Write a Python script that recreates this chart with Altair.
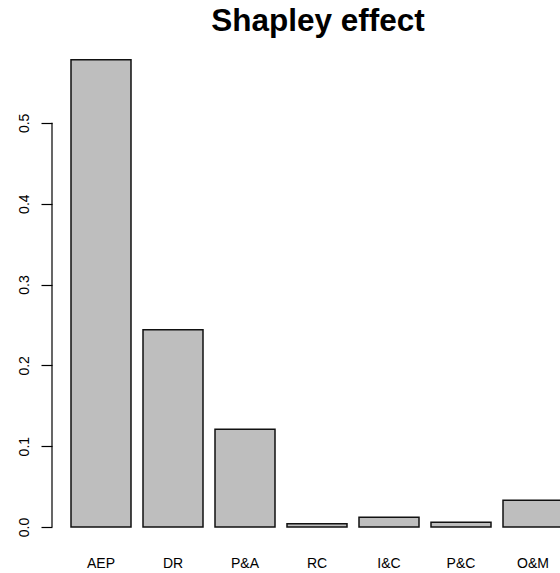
import altair as alt
import pandas as pd

# Shapley effect of each input factor
factors = ["AEP", "DR", "P&A", "RC", "I&C", "P&C", "O&M"]
shapley = [0.578, 0.244, 0.121, 0.004, 0.012, 0.006, 0.033]
y_ticks = [0.0, 0.1, 0.2, 0.3, 0.4, 0.5]

# barplot-style layout: unit-width bars separated by a 0.2 gap
space = 0.2
df = pd.DataFrame({
    "factor": factors,
    "value": shapley,
    "left": [space + i * (1 + space) for i in range(len(factors))],
})
df["right"] = df["left"] + 1
df["mid"] = df["left"] + 0.5

x_dom = [-0.1167, 8.35]
y_dom = [0, 0.6]
FONT = "Liberation Sans"

x_scale = alt.Scale(domain=x_dom, nice=False, zero=False)
y_scale = alt.Scale(domain=y_dom, nice=False)

y_axis = alt.Axis(
    values=y_ticks, format=".1f", domain=False, grid=False,
    tickSize=11, tickColor="#000", tickWidth=1.2,
    labelAngle=270, labelAlign="center", labelBaseline="bottom",
    labelPadding=10, labelFont=FONT, labelFontSize=14, labelColor="#000",
    title=None,
)

bars = alt.Chart(df).mark_rect(
    fill="#BEBEBE", stroke="#111", strokeWidth=1.5
).encode(
    x=alt.X("left:Q", scale=x_scale, axis=None),
    x2="right:Q",
    y=alt.Y("value:Q", scale=y_scale, axis=y_axis),
    y2=alt.datum(0),
)

# y axis line spanning only the tick range
axis_line = alt.Chart(pd.DataFrame({"lo": [y_ticks[0]], "hi": [y_ticks[-1]]})).mark_rule(
    color="#000", strokeWidth=1.2
).encode(
    x=alt.value(0),
    y=alt.Y("lo:Q", scale=y_scale, axis=y_axis),
    y2="hi:Q",
)

labels = alt.Chart(df).mark_text(
    font=FONT, fontSize=14, color="#000", baseline="alphabetic", align="center"
).encode(
    x=alt.X("mid:Q", scale=x_scale, axis=None),
    y=alt.value(525.5),
    text="factor:N",
)

chart = alt.layer(bars, axis_line, labels).properties(
    width=508,
    height=485,
    background="white",
    title=alt.TitleParams(
        "Shapley effect", font=FONT, fontSize=31.5, fontWeight="bold",
        color="#000", anchor="middle", dx=12, offset=10, baseline="alphabetic",
        dy=30.5,
    ),
    autosize=alt.AutoSizeParams(type="none"),
    padding={"left": 52, "top": 42, "right": 0, "bottom": 46},
).configure_view(stroke=None, strokeWidth=0).configure_axis(grid=False)

chart.save("out.html", embed_options={"renderer": "svg", "actions": False})
